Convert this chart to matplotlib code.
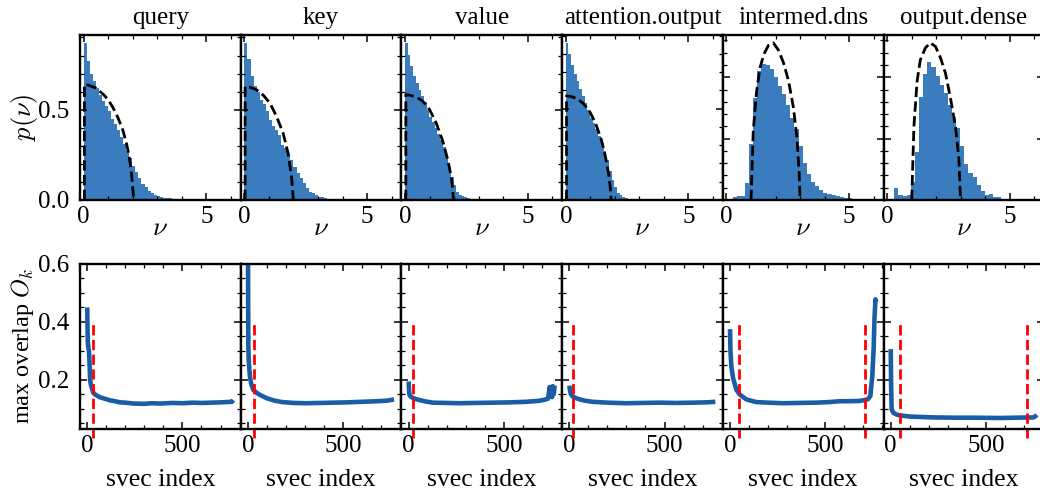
import numpy as np
import matplotlib
matplotlib.use("Agg")
import matplotlib.pyplot as plt
from matplotlib.ticker import MultipleLocator

# ── panel titles ──
titles = ["query", "key", "value", "attention.output", "intermed.dns", "output.dense"]

# ── top row: histograms of nu (bin start, bin width, heights) ──
hist_start = [0.0, 0.0, 0.0, 0.0, 0.25, 0.29]
hist_width = [0.124, 0.125, 0.11, 0.11, 0.168, 0.168]
hist_query = [0.87, 0.77, 0.70, 0.66, 0.62, 0.58, 0.55, 0.52, 0.49, 0.45, 0.42, 0.385,
              0.35, 0.31, 0.27, 0.23, 0.19, 0.155, 0.12, 0.09, 0.07, 0.05, 0.04, 0.03,
              0.022, 0.016, 0.012, 0.01, 0.009, 0.008, 0.007, 0.003, 0.002, 0.001]
hist_key = [0.87, 0.78, 0.685, 0.63, 0.60, 0.555, 0.53, 0.49, 0.445, 0.41, 0.39, 0.36,
            0.305, 0.287, 0.26, 0.22, 0.185, 0.148, 0.12, 0.093, 0.065, 0.046, 0.037,
            0.028, 0.018, 0.015, 0.009, 0.007, 0.005, 0.004, 0.003, 0.003, 0.002, 0.002,
            0.002, 0.001]
hist_value = [0.87, 0.805, 0.74, 0.685, 0.65, 0.61, 0.575, 0.54, 0.50, 0.46, 0.43, 0.40,
              0.365, 0.33, 0.296, 0.24, 0.185, 0.13, 0.083, 0.045, 0.028, 0.02, 0.015,
              0.01, 0.007, 0.005, 0.003, 0.002]
hist_attn = [0.86, 0.80, 0.74, 0.69, 0.65, 0.61, 0.57, 0.53, 0.49, 0.45, 0.42, 0.39,
             0.35, 0.31, 0.27, 0.22, 0.16, 0.11, 0.07, 0.04, 0.025, 0.015, 0.01, 0.006,
             0.004, 0.002]
hist_inter = [0.023, 0.03, 0.03, 0.14, 0.46, 0.83, 1.05, 1.11, 1.10, 1.07, 1.00, 0.93,
              0.86, 0.77, 0.67, 0.575, 0.44, 0.30, 0.21, 0.15, 0.11, 0.083, 0.056, 0.048,
              0.037, 0.03, 0.027, 0.02, 0.015, 0.01, 0.008, 0.005]
hist_outd = [0.097, 0.04, 0.034, 0.037, 0.146, 0.39, 0.84, 1.03, 1.12, 1.08, 1.01, 0.94,
             0.875, 0.77, 0.68, 0.59, 0.44, 0.29, 0.22, 0.185, 0.125, 0.07, 0.042, 0.048,
             0.023, 0.023, 0.01, 0.005]
hists = [hist_query, hist_key, hist_value, hist_attn, hist_inter, hist_outd]

# ── top row: theory curves (dashed) ──
th_nu_query = [0.03, 0.03, 0.2, 0.5, 0.8, 1.0, 1.2, 1.4, 1.6, 1.75, 1.85, 1.93, 1.98, 2.02, 2.03]
th_p_query = [0.0, 0.64, 0.635, 0.62, 0.585, 0.555, 0.51, 0.455, 0.385, 0.31, 0.245, 0.17, 0.1, 0.03, 0.0]
th_nu_key = [0.03, 0.03, 0.2, 0.5, 0.77, 1.04, 1.31, 1.58, 1.78, 1.92, 1.97, 1.99]
th_p_key = [0.0, 0.63, 0.625, 0.61, 0.58, 0.537, 0.463, 0.37, 0.259, 0.13, 0.05, 0.0]
th_nu_value = [0.03, 0.03, 0.2, 0.46, 0.73, 1.0, 1.27, 1.54, 1.74, 1.88, 1.94, 1.97]
th_p_value = [0.0, 0.583, 0.58, 0.57, 0.546, 0.5, 0.426, 0.324, 0.222, 0.13, 0.06, 0.0]
th_nu_attn = [0.03, 0.03, 0.2, 0.45, 0.7, 0.95, 1.2, 1.45, 1.62, 1.75, 1.82, 1.85]
th_p_attn = [0.0, 0.57, 0.567, 0.555, 0.53, 0.49, 0.425, 0.33, 0.235, 0.14, 0.06, 0.0]
th_nu_inter = [1.0, 1.09, 1.23, 1.37, 1.53, 1.71, 1.91, 2.12, 2.32, 2.53, 2.73, 2.87, 2.96, 3.0]
th_p_inter = [0.0, 0.56, 0.89, 1.08, 1.19, 1.26, 1.28, 1.22, 1.12, 0.97, 0.75, 0.51, 0.23, 0.0]
th_nu_outd = [1.0, 1.09, 1.22, 1.35, 1.56, 1.76, 1.97, 2.17, 2.38, 2.58, 2.79, 2.92, 2.99]
th_p_outd = [0.0, 0.6, 0.97, 1.14, 1.24, 1.28, 1.25, 1.16, 1.03, 0.83, 0.59, 0.34, 0.0]
th_nu = [th_nu_query, th_nu_key, th_nu_value, th_nu_attn, th_nu_inter, th_nu_outd]
th_p = [th_p_query, th_p_key, th_p_value, th_p_attn, th_p_inter, th_p_outd]

# ── bottom row: max overlap vs svec index ──
ov_idx_query = [0, 1, 3, 6, 9, 12, 15, 20, 25, 32, 40, 50, 65, 85, 100, 120, 145, 172, 200,
                242, 300, 340, 382, 450, 500, 557, 600, 650, 700, 733, 760, 767]
ov_query = [0.45, 0.40, 0.33, 0.31, 0.30, 0.26, 0.20, 0.18, 0.17, 0.155, 0.15, 0.146, 0.14,
            0.136, 0.133, 0.129, 0.126, 0.122, 0.121, 0.118, 0.117, 0.119, 0.118, 0.12, 0.119,
            0.121, 0.12, 0.121, 0.122, 0.123, 0.124, 0.13]
ov_idx_key = [0, 1, 2, 4, 7, 11, 16, 20, 28, 46, 63, 100, 140, 180, 240, 300, 380,
              450, 520, 600, 680, 730, 767]
ov_key = [0.70, 0.50, 0.32, 0.27, 0.24, 0.21, 0.19, 0.18, 0.165, 0.155, 0.148, 0.136, 0.128,
          0.123, 0.12, 0.119, 0.12, 0.121, 0.122, 0.124, 0.126, 0.128, 0.132]
ov_idx_value = [0, 2, 4, 10, 21, 35, 57, 90, 127, 200, 268, 350, 443, 530, 618, 680, 706,
                720, 732, 741, 748, 753, 757, 762, 767]
ov_value = [0.194, 0.165, 0.149, 0.142, 0.138, 0.134, 0.13, 0.125, 0.121, 0.12, 0.119, 0.12,
            0.121, 0.122, 0.124, 0.127, 0.13, 0.132, 0.135, 0.175, 0.142, 0.14, 0.178, 0.15, 0.18]
ov_idx_attn = [0, 3, 8, 16, 30, 51, 80, 121, 200, 297, 380, 472, 560, 650, 720, 767]
ov_attn = [0.18, 0.165, 0.15, 0.143, 0.138, 0.133, 0.128, 0.124, 0.121, 0.119, 0.12, 0.121,
           0.12, 0.121, 0.122, 0.124]
ov_idx_inter = [0, 2, 7, 16, 33, 51, 86, 138, 200, 278, 360, 453, 520, 576, 630, 681, 707,
                724, 737, 747, 754, 759, 764, 767]
ov_inter = [0.375, 0.303, 0.246, 0.206, 0.166, 0.149, 0.132, 0.123, 0.121, 0.119, 0.12,
            0.121, 0.123, 0.126, 0.126, 0.127, 0.13, 0.133, 0.144, 0.213, 0.303, 0.418,
            0.478, 0.47]
ov_idx_outd = [0, 2, 5, 14, 30, 49, 100, 224, 350, 450, 574, 650, 749, 760, 767]
ov_outd = [0.306, 0.18, 0.097, 0.086, 0.08, 0.077, 0.073, 0.07, 0.069, 0.069, 0.068, 0.069,
           0.07, 0.074, 0.079]
ov_idx = [ov_idx_query, ov_idx_key, ov_idx_value, ov_idx_attn, ov_idx_inter, ov_idx_outd]
ov = [ov_query, ov_key, ov_value, ov_attn, ov_inter, ov_outd]

# red cut-off markers (svec index)
cut_lo = [32, 30, 25, 18, 46, 49]
cut_hi = [None, None, None, None, 707, 716]

BAR_COLOR = "#3a7cbd"
LINE_COLOR = "#1a5da6"

plt.rcParams.update({
    "font.family": "serif",
    "font.serif": ["Liberation Serif", "DejaVu Serif"],
    "mathtext.fontset": "cm",
    "font.size": 18,
    "axes.linewidth": 1.7,
    "xtick.direction": "in",
    "ytick.direction": "in",
    "xtick.top": True,
    "ytick.right": True,
    "xtick.major.size": 5,
    "ytick.major.size": 5,
    "xtick.minor.size": 3,
    "ytick.minor.size": 3,
    "xtick.major.width": 1.1,
    "ytick.major.width": 1.1,
    "xtick.minor.width": 0.9,
    "ytick.minor.width": 0.9,
    "xtick.major.pad": 4,
    "ytick.major.pad": 7.5,
})

W, H = 1040, 498
fig = plt.figure(figsize=(W / 100, H / 100), dpi=100)

col_w = 160.7
left0 = 80
top_y0, top_y1 = 35, 200
bot_y0, bot_y1 = 264, 429

for i in range(6):
    x0 = left0 + i * col_w
    ax_t = fig.add_axes([x0 / W, (H - top_y1) / H, col_w / W, (top_y1 - top_y0) / H])
    ax_b = fig.add_axes([x0 / W, (H - bot_y1) / H, col_w / W, (bot_y1 - bot_y0) / H])

    # histogram + theory
    h = hists[i]
    edges = hist_start[i] + hist_width[i] * np.arange(len(h))
    ax_t.bar(edges, h, width=hist_width[i], align="edge", color=BAR_COLOR, linewidth=0)
    ax_t.plot(th_nu[i], th_p[i], "k--", lw=2.0)
    ax_t.set_xlim(-0.15, 6.4)
    ax_t.set_ylim(0, 1.05 * max(max(h), max(th_p[i])))
    ax_t.xaxis.set_major_locator(MultipleLocator(5))
    ax_t.xaxis.set_minor_locator(MultipleLocator(1))
    ax_t.yaxis.set_major_locator(MultipleLocator(0.5))
    ax_t.yaxis.set_minor_locator(MultipleLocator(0.1))
    ax_t.set_xlabel(r"$\nu$", fontsize=19, labelpad=-7)
    ax_t.set_title(titles[i], fontsize=18, pad=8)

    # overlap curves
    ax_b.plot(ov_idx[i], ov[i], color=LINE_COLOR, lw=3.3, solid_capstyle="butt")
    ax_b.vlines(cut_lo[i], 0, 0.4, colors="red", linestyles="--", lw=2.0, clip_on=False)
    if cut_hi[i] is not None:
        ax_b.vlines(cut_hi[i], 0, 0.4, colors="red", linestyles="--", lw=2.0, clip_on=False)
    ax_b.set_xlim(-38, 806)
    ax_b.set_ylim(0.03, 0.6)
    ax_b.xaxis.set_major_locator(MultipleLocator(500))
    ax_b.xaxis.set_minor_locator(MultipleLocator(100))
    ax_b.yaxis.set_major_locator(MultipleLocator(0.2))
    ax_b.yaxis.set_minor_locator(MultipleLocator(0.05))
    ax_b.set_xlabel("svec index", fontsize=18.5, labelpad=9)

    for ax in (ax_t, ax_b):
        ax.tick_params(which="both", top=True, right=True)
        if i > 0:
            ax.tick_params(labelleft=False)

    if i == 0:
        ax_t.set_ylabel(r"$p(\nu)$", fontsize=19, labelpad=-1)
        ax_b.set_ylabel(r"max overlap $O_k$", fontsize=17.5, labelpad=2)

fig.savefig("out.png", dpi=100)
